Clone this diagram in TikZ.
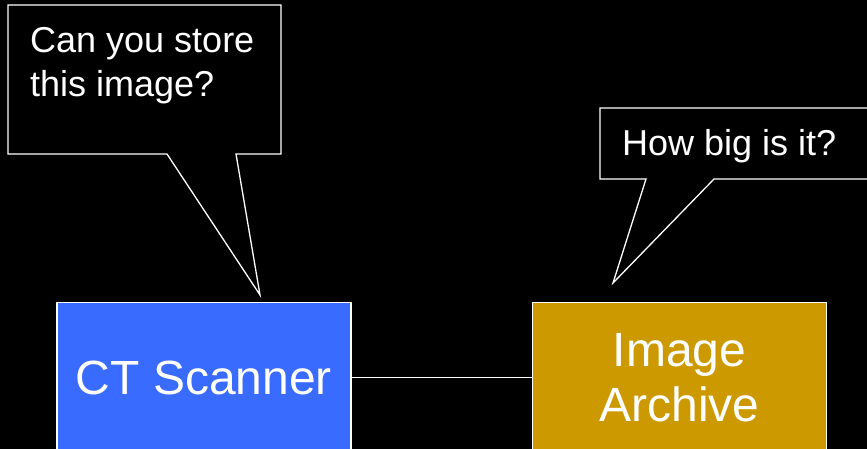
\documentclass[tikz,border=0pt]{standalone}
\usepackage{fontspec}
\setmainfont{Liberation Sans}
\definecolor{scanblue}{HTML}{3A6BFF}
\definecolor{archgold}{HTML}{CC9900}
\tikzset{
  device/.style={draw=white, line width=1.3pt, minimum width=294pt, minimum height=170pt,
    inner sep=0pt},
  devicetext/.style={text=white, align=center, inner sep=0pt, font=\fontsize{48}{55}\selectfont},
  bubble/.style={draw=white, fill=black, line width=1.3pt, line join=miter},
  bubbletext/.style={text=white, align=left, inner sep=0pt, font=\fontsize{36}{44}\selectfont},
  link/.style={draw=white, line width=1.3pt}
}
\begin{document}
\begin{tikzpicture}[x=1pt, y=-1pt]
  \useasboundingbox (0,0) rectangle (867,448);
  \clip (-10,-10) rectangle (877,458);
  \fill[black] (-10,-10) rectangle (877,458);

  % devices (their lower parts run past the bottom edge)
  \node[device, fill=scanblue] (ct) at (204,387.5) {};
  \node[devicetext] (ctlabel) at (204,377.5) {CT Scanner};
  \node[device, fill=archgold] (arch) at (679.5,387.5) {};
  \node[devicetext] (archlabel) at (679.5,377.5) {Image\\Archive};
  \draw[link] (ct.east |- ctlabel) -- (arch.west |- ctlabel);

  % speech bubble of the scanner
  \draw[bubble] (8,5) -- (281,5) -- (281,154) -- (236,154) -- (260,295)
    -- (167,154) -- (8,154) -- cycle;
  \node[bubbletext, anchor=base west] (ask) at (30,96) {Can you store\\this image?};

  % speech bubble of the archive
  \draw[bubble] (600,108) -- (890,108) -- (890,179) -- (714,179) -- (613,283)
    -- (646,179) -- (600,179) -- cycle;
  \node[bubbletext, anchor=base west] (reply) at (622,155) {How big is it?};
\end{tikzpicture}
\end{document}
